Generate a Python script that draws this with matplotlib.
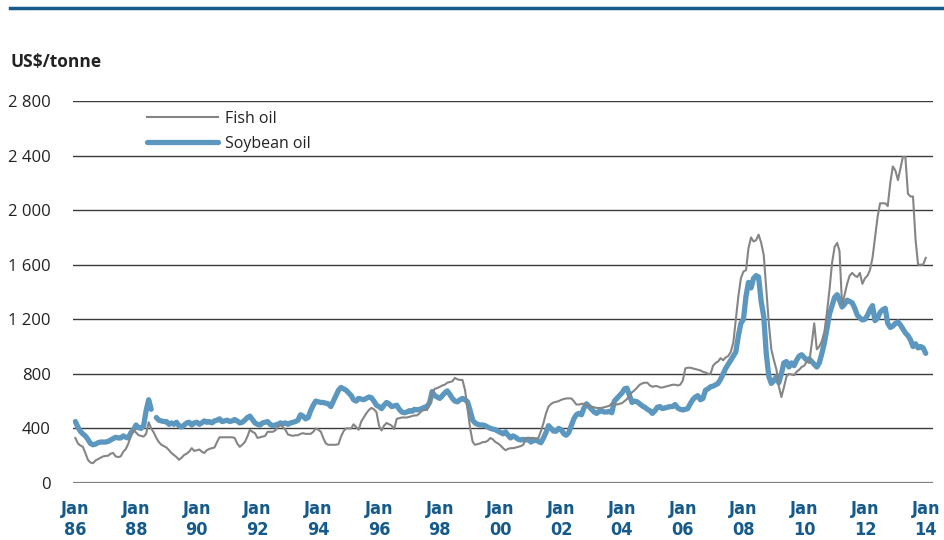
import numpy as np
import pandas as pd
import matplotlib
matplotlib.use("Agg")
import matplotlib.pyplot as plt
from matplotlib.lines import Line2D

# monthly prices, US$/tonne, Jan 1986 - Jan 2014
fish_oil = [
    330, 290, 275, 265, 220, 170, 150, 145, 165, 175, 185, 195,        # 1986
    198, 200, 215, 220, 195, 190, 195, 230, 250, 290, 350, 390,        # 1987
    370, 350, 345, 340, 360, 445, 400, 370, 330, 300, 280, 270,        # 1988
    260, 240, 220, 205, 190, 170, 185, 205, 215, 230, 255, 235,        # 1989
    240, 245, 230, 220, 240, 250, 255, 260, 300, 335, 335, 335,        # 1990
    335, 335, 335, 330, 290, 265, 280, 300, 340, 390, 375, 365,        # 1991
    330, 335, 340, 345, 375, 375, 375, 385, 410, 425, 410, 390,        # 1992
    355, 350, 345, 350, 350, 360, 365, 360, 360, 360, 375, 400,        # 1993
    390, 375, 330, 290, 280, 280, 280, 280, 285, 340, 380, 400,        # 1994
    400, 400, 430, 410, 390, 450, 480, 510, 535, 550, 540, 520,        # 1995
    420, 385, 420, 440, 430, 420, 395, 470, 475, 480, 480, 480,        # 1996
    485, 490, 495, 495, 510, 530, 535, 535, 580, 660, 690, 695,        # 1997
    705, 715, 720, 735, 740, 745, 770, 760, 755, 755, 680, 540,        # 1998
    400, 300, 280, 285, 290, 300, 300, 310, 330, 320, 300, 290,        # 1999
    275, 255, 240, 250, 255, 255, 260, 265, 270, 280, 330, 330,        # 2000
    330, 330, 325, 330, 380, 440, 510, 560, 580, 590, 595, 600,        # 2001
    610, 615, 620, 620, 620, 600, 575, 575, 580, 580, 570, 565,        # 2002
    560, 555, 550, 550, 550, 555, 560, 565, 585, 580, 575, 580,        # 2003
    585, 600, 615, 640, 665, 680, 700, 720, 730, 735, 735, 715,        # 2004
    705, 710, 710, 700, 700, 705, 710, 715, 720, 720, 715, 720,        # 2005
    750, 840, 845, 845, 840, 835, 830, 825, 815, 810, 800, 800,        # 2006
    860, 880, 890, 915, 900, 920, 930, 960, 1030, 1200, 1370, 1500,    # 2007
    1550, 1560, 1720, 1800, 1770, 1780, 1820, 1760, 1670, 1420, 1170, 980,  # 2008
    900, 830, 710, 630, 700, 780, 800, 795, 790, 815, 830, 850,        # 2009
    860, 890, 880, 1020, 1170, 980, 1000, 1040, 1110, 1250, 1420, 1610,     # 2010
    1730, 1760, 1700, 1300, 1380, 1460, 1520, 1540, 1520, 1510, 1540, 1460,  # 2011
    1500, 1520, 1560, 1650, 1800, 1950, 2050, 2050, 2050, 2030, 2200, 2320,  # 2012
    2290, 2220, 2300, 2390, 2390, 2120, 2100, 2100, 1780, 1600, 1600, 1600,  # 2013
    1650,                                                              # 2014
]

soybean_oil = [
    450, 410, 380, 360, 345, 320, 290, 280, 285, 295, 300, 300,        # 1986
    300, 305, 315, 325, 335, 330, 330, 345, 335, 330, 370, 390,        # 1987
    425, 405, 400, 420, 530, 610, 540, np.nan, 480, 460, 455, 450,     # 1988
    450, 430, 440, 430, 445, 420, 410, 425, 440, 445, 425, 440,        # 1989
    445, 430, 440, 455, 445, 450, 440, 455, 460, 470, 450, 455,        # 1990
    460, 450, 455, 465, 455, 440, 445, 460, 480, 490, 465, 440,        # 1991
    430, 425, 440, 445, 450, 430, 420, 425, 430, 440, 435, 440,        # 1992
    430, 440, 445, 450, 460, 500, 490, 470, 480, 530, 570, 600,        # 1993
    595, 590, 590, 585, 580, 560, 600, 640, 680, 700, 690, 680,        # 1994
    660, 640, 610, 600, 620, 615, 610, 620, 630, 625, 600, 570,        # 1995
    560, 545, 570, 590, 580, 560, 565, 570, 540, 520, 515, 520,        # 1996
    530, 525, 540, 535, 540, 545, 555, 560, 590, 670, 640, 630,        # 1997
    620, 640, 660, 675, 650, 620, 600, 595, 610, 620, 610, 595,        # 1998
    530, 460, 440, 430, 425, 425, 420, 410, 400, 395, 390, 380,        # 1999
    370, 360, 375, 350, 330, 345, 335, 320, 315, 320, 315, 320,        # 2000
    300, 310, 315, 305, 295, 330, 370, 420, 400, 380, 380, 400,        # 2001
    390, 360, 350, 370, 420, 470, 500, 510, 500, 550, 580, 560,        # 2002
    540, 520, 510, 525, 530, 520, 520, 525, 515, 600, 620, 640,        # 2003
    660, 690, 695, 640, 590, 600, 595, 580, 565, 555, 540, 530,        # 2004
    510, 530, 555, 560, 545, 550, 555, 560, 560, 575, 550, 540,        # 2005
    535, 540, 545, 580, 610, 630, 640, 610, 620, 680, 690, 705,        # 2006
    710, 720, 730, 760, 800, 840, 870, 900, 930, 960, 1080, 1170,      # 2007
    1200, 1370, 1470, 1430, 1500, 1520, 1510, 1330, 1220, 950, 780, 730,    # 2008
    750, 780, 735, 800, 880, 890, 850, 880, 860, 900, 930, 940,        # 2009
    920, 900, 910, 890, 870, 850, 880, 950, 1030, 1130, 1240, 1300,    # 2010
    1360, 1380, 1340, 1290, 1310, 1340, 1330, 1320, 1280, 1230, 1210, 1195,  # 2011
    1200, 1230, 1270, 1300, 1190, 1210, 1250, 1270, 1280, 1170, 1140, 1150,  # 2012
    1170, 1180, 1160, 1130, 1100, 1080, 1050, 1000, 1020, 990, 1000, 990,    # 2013
    950,                                                               # 2014
]

months = pd.date_range("1986-01-01", periods=len(fish_oil), freq="MS")
tick_years = list(range(1986, 2015, 2))
tick_labels = ["Jan\n%02d" % (y % 100) for y in tick_years]
y_ticks = list(range(0, 2801, 400))
y_labels = ["{:,}".format(v).replace(",", " ") for v in y_ticks]

BLUE_DARK = "#155a8a"
SOY = "#5b97be"
FISH = "#858585"

fig = plt.figure(figsize=(9.45, 5.4), dpi=100)
ax = fig.add_axes([0.077, 0.1056, 0.91, 0.7074])

for v in y_ticks:
    if v == 0:
        ax.axhline(v, color="#808080", lw=1.6, zorder=1)
    else:
        ax.axhline(v, color="#3a3a3a", lw=1.0, zorder=1)

ax.plot(months, fish_oil, color=FISH, lw=1.5, label="Fish oil", zorder=3)
ax.plot(months, soybean_oil, color=SOY, lw=3.8, label="Soybean oil",
        solid_capstyle="round", zorder=2)

ax.set_ylim(0, 2800)
ax.set_xlim(pd.Timestamp("1985-12-01"), pd.Timestamp("2014-01-01") + pd.Timedelta(days=84))

for s in ax.spines.values():
    s.set_visible(False)

ax.set_yticks(y_ticks)
ax.set_yticklabels(y_labels, fontsize=12, color="#222222", family=["Open Sans", "DejaVu Sans"])
ax.set_xticks([pd.Timestamp("%d-01-01" % y) for y in tick_years])
ax.set_xticklabels(tick_labels, fontsize=13, fontweight="bold", color=BLUE_DARK,
                   family=["DejaVu Sans"], fontstretch="condensed", linespacing=1.25)
ax.tick_params(axis="y", length=0, pad=16)
ax.tick_params(axis="x", length=0, pad=12)

leg = ax.legend(loc="upper left", bbox_to_anchor=(0.07, 1.012), frameon=False,
                handlelength=4.4, handletextpad=0.45, labelspacing=0.55,
                prop={"family": ["Open Sans", "DejaVu Sans"], "size": 11.5})
for t in leg.get_texts():
    t.set_color("#222222")

fig.text(0.011, 0.885, "US$/tonne", fontsize=12.5, fontweight="bold", color="#222222",
         family=["Open Sans", "DejaVu Sans"], va="center")

fig.add_artist(Line2D([0.011, 1.0], [0.985, 0.985], color=BLUE_DARK, lw=2.5,
                      transform=fig.transFigure))

fig.savefig("out.png", dpi=100)
